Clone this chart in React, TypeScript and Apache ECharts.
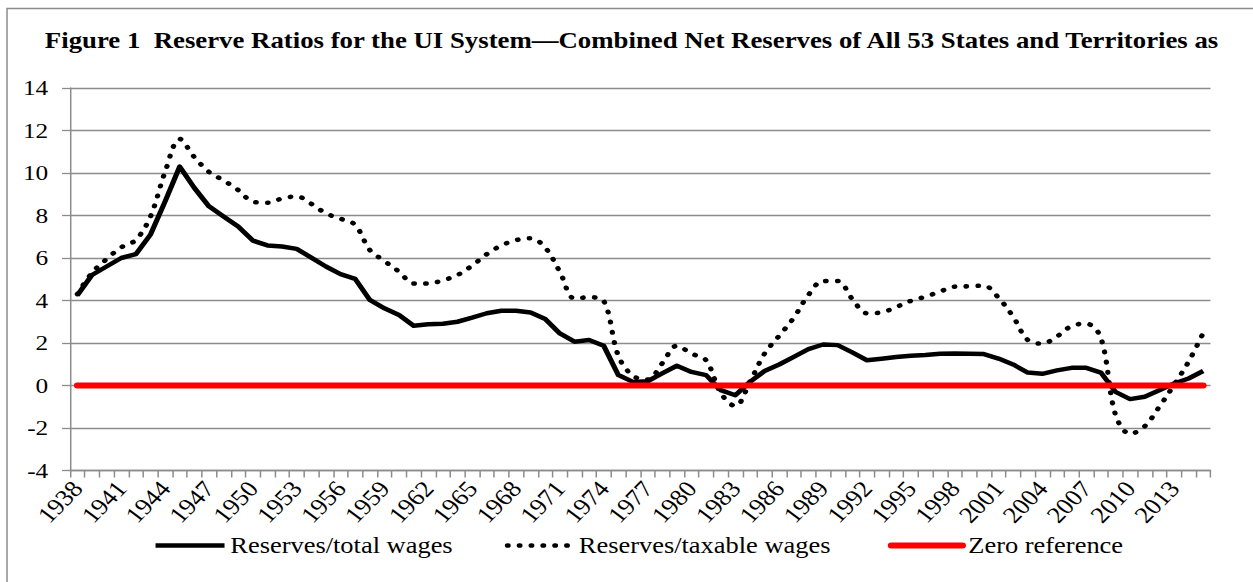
import { useEffect, useRef } from "react";
import * as echarts from "echarts";

// Calendar years on the category axis
const years = [
  "1938", "1939", "1940", "1941", "1942", "1943", "1944", "1945", "1946", "1947",
  "1948", "1949", "1950", "1951", "1952", "1953", "1954", "1955", "1956", "1957",
  "1958", "1959", "1960", "1961", "1962", "1963", "1964", "1965", "1966", "1967",
  "1968", "1969", "1970", "1971", "1972", "1973", "1974", "1975", "1976", "1977",
  "1978", "1979", "1980", "1981", "1982", "1983", "1984", "1985", "1986", "1987",
  "1988", "1989", "1990", "1991", "1992", "1993", "1994", "1995", "1996", "1997",
  "1998", "1999", "2000", "2001", "2002", "2003", "2004", "2005", "2006", "2007",
  "2008", "2009", "2010", "2011", "2012", "2013", "2014", "2015",
];

// Net reserves as a percent of total wages
const totalWages = [
  4.25, 5.2, 5.6, 6.0, 6.18, 7.1, 8.66, 10.3, 9.3, 8.43,
  7.95, 7.48, 6.82, 6.59, 6.54, 6.43, 6.02, 5.6, 5.24, 5.02,
  4.03, 3.63, 3.32, 2.81, 2.88, 2.91, 3.0, 3.19, 3.4, 3.52,
  3.52, 3.44, 3.13, 2.45, 2.06, 2.14, 1.87, 0.49, 0.17, 0.2,
  0.57, 0.93, 0.64, 0.49, -0.22, -0.46, 0.17, 0.68, 0.99, 1.35,
  1.71, 1.93, 1.9, 1.56, 1.19, 1.26, 1.34, 1.4, 1.43, 1.49,
  1.51, 1.49, 1.48, 1.27, 0.99, 0.61, 0.55, 0.71, 0.83, 0.83,
  0.61, -0.3, -0.64, -0.53, -0.22, 0.09, 0.33, 0.68,
];

// Net reserves as a percent of taxable wages
const taxableWages = [
  4.3, 5.3, 5.95, 6.5, 6.85, 7.95, 10.05, 11.6, 10.75, 10.05,
  9.65, 9.2, 8.65, 8.6, 8.8, 8.9, 8.55, 8.1, 7.85, 7.56,
  6.38, 5.86, 5.36, 4.8, 4.8, 4.95, 5.2, 5.64, 6.18, 6.59,
  6.84, 6.93, 6.49, 5.35, 4.1, 4.15, 3.98, 1.4, 0.45, 0.28,
  1.04, 1.87, 1.5, 1.19, -0.35, -0.97, 0.17, 1.5, 2.34, 3.19,
  4.26, 4.92, 4.92, 4.07, 3.4, 3.44, 3.69, 3.98, 4.18, 4.42,
  4.65, 4.67, 4.7, 4.13, 3.24, 2.14, 1.97, 2.31, 2.8, 2.91,
  2.25, -1.37, -2.28, -1.92, -1.0, 0.02, 1.12, 2.47,
];

// Flat reference at zero
const zeroReference = [
  0, 0, 0, 0, 0, 0, 0, 0, 0, 0,
  0, 0, 0, 0, 0, 0, 0, 0, 0, 0,
  0, 0, 0, 0, 0, 0, 0, 0, 0, 0,
  0, 0, 0, 0, 0, 0, 0, 0, 0, 0,
  0, 0, 0, 0, 0, 0, 0, 0, 0, 0,
  0, 0, 0, 0, 0, 0, 0, 0, 0, 0,
  0, 0, 0, 0, 0, 0, 0, 0, 0, 0,
  0, 0, 0, 0, 0, 0, 0, 0,
];

const seriesNames = ["Reserves/total wages", "Reserves/taxable wages", "Zero reference"];
const titleText =
  "Figure 1  Reserve Ratios for the UI System\u2014Combined Net Reserves of All 53 States and Territories as";

const Y_MIN = -4;
const Y_MAX = 14;
const Y_STEP = 2;

// The figure is laid out on a narrower canvas and widened horizontally.
const STRETCH = 1.15;
const HEIGHT = 582;
const WIDTH = 1253 / STRETCH;

const FONT = "Liberation Serif";
const GRID_GRAY = "#8c8c8c";
const DOT_DASH = [0.5, 9.8];

export default function App() {
  const ref = useRef<HTMLDivElement>(null);

  useEffect(() => {
    if (!ref.current) return;
    const chart = echarts.init(ref.current, null, { renderer: "svg" });

    const legendText = { fontFamily: FONT, fontSize: 23, color: "#000" };
    const legendBase = {
      top: 534,
      padding: 0,
      itemHeight: 24,
      selectedMode: false,
      textStyle: legendText,
    };
    // Legend keys show only the line sample, no marker
    const noMarker = { opacity: 0 };

    chart.setOption({
      animation: false,
      backgroundColor: "#fff",
      title: {
        text: titleText,
        left: 39,
        top: 29,
        padding: 0,
        textStyle: { fontFamily: FONT, fontSize: 23.3, fontWeight: "bold", color: "#000" },
      },
      graphic: [
        {
          type: "rect",
          silent: true,
          z: -1,
          shape: { x: 6.1, y: 8.5, width: 1300, height: 600 },
          style: { fill: "none", stroke: GRID_GRAY, lineWidth: 1.3 },
        },
      ],
      legend: [
        {
          ...legendBase,
          left: 133,
          itemWidth: 60,
          data: [
            {
              name: seriesNames[0],
              itemStyle: noMarker,
              lineStyle: { color: "#000", width: 4.5, type: "solid", cap: "butt" },
            },
          ],
        },
        {
          ...legendBase,
          left: 439,
          itemWidth: 57,
          data: [
            {
              name: seriesNames[1],
              itemStyle: noMarker,
              lineStyle: { color: "#000", width: 4.6, type: DOT_DASH, cap: "round" },
            },
          ],
        },
        {
          ...legendBase,
          left: 772,
          itemWidth: 62,
          data: [
            {
              name: seriesNames[2],
              itemStyle: noMarker,
              lineStyle: { color: "#ff0000", width: 6, type: "solid", cap: "round" },
            },
          ],
        },
      ],
      grid: {
        left: 60.9,
        right: WIDTH - 1210 / STRETCH,
        top: 88,
        bottom: HEIGHT - 470.5,
        containLabel: false,
      },
      xAxis: {
        type: "category",
        data: years,
        boundaryGap: true,
        axisLine: { show: true, onZero: false, lineStyle: { color: GRID_GRAY, width: 1.3 } },
        axisTick: { show: true, interval: 0, length: 7, lineStyle: { color: GRID_GRAY, width: 1.3 } },
        axisLabel: {
          interval: 2,
          rotate: 49,
          margin: 14,
          fontFamily: FONT,
          fontSize: 23,
          color: "#000",
        },
        splitLine: { show: false },
      },
      yAxis: {
        type: "value",
        min: Y_MIN,
        max: Y_MAX,
        interval: Y_STEP,
        axisLine: { show: true, lineStyle: { color: GRID_GRAY, width: 1.3 } },
        axisTick: { show: true, length: 7, lineStyle: { color: GRID_GRAY, width: 1.3 } },
        axisLabel: { margin: 19, fontFamily: FONT, fontSize: 22, color: "#000" },
        splitLine: { show: true, lineStyle: { color: GRID_GRAY, width: 1.3 } },
      },
      series: [
        {
          name: seriesNames[0],
          type: "line",
          data: totalWages,
          symbol: "none",
          color: "#000",
          lineStyle: { color: "#000", width: 4.5, join: "round" },
        },
        {
          name: seriesNames[1],
          type: "line",
          data: taxableWages,
          symbol: "none",
          smooth: 0.35,
          color: "#000",
          lineStyle: { color: "#000", width: 4.6, type: DOT_DASH, cap: "round" },
        },
        {
          name: seriesNames[2],
          type: "line",
          data: zeroReference,
          symbol: "none",
          color: "#ff0000",
          lineStyle: { color: "#ff0000", width: 6, cap: "round" },
        },
      ],
    });

    return () => chart.dispose();
  }, []);

  return (
    <div
      ref={ref}
      style={{
        position: "absolute",
        left: 0,
        top: 0,
        width: WIDTH,
        height: HEIGHT,
        transform: `scaleX(${STRETCH})`,
        transformOrigin: "0 0",
      }}
    />
  );
}
